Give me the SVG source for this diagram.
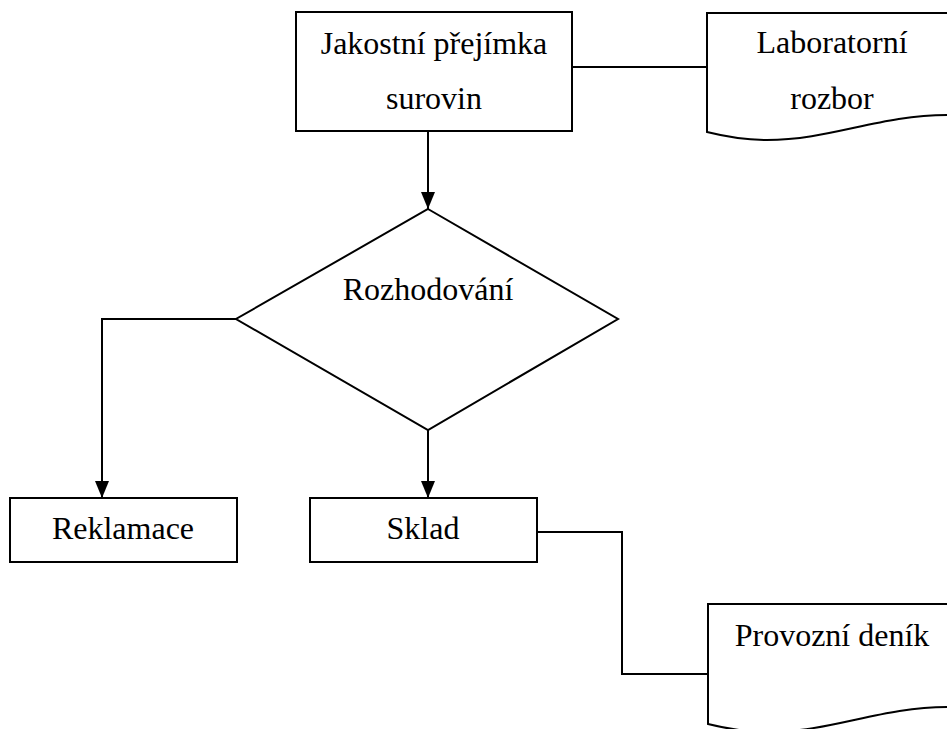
<svg xmlns="http://www.w3.org/2000/svg" width="947" height="729" viewBox="0 0 947 729">
<style>
.s{fill:#fff;stroke:#000;stroke-width:2}
.c{fill:none;stroke:#000;stroke-width:2}
text{font-family:"Liberation Serif","Times New Roman",serif;font-size:32px;fill:#000;text-anchor:middle}
</style>
<defs>
<marker id="ad" markerWidth="17" markerHeight="14" refX="17" refY="7" orient="auto" markerUnits="userSpaceOnUse" viewBox="0 0 17 14">
<path d="M0,0 L17,7 L0,14 Z" fill="#000"/>
</marker>
</defs>
<rect width="947" height="729" fill="#fff"/>
<g id="connectors">
<path class="c" d="M428,131 V209" marker-end="url(#ad)"/>
<path class="c" d="M236,319 H102 V498" marker-end="url(#ad)"/>
<path class="c" d="M428,430 V498" marker-end="url(#ad)"/>
<path class="c" d="M572,67 H707"/>
<path class="c" d="M537,532 H622 V674 H708"/>
</g>
<g id="n1">
<rect class="s" x="296" y="12" width="276" height="119"/>
<text x="434" y="54">Jakostní přejímka</text>
<text x="434" y="109">surovin</text>
</g>
<g id="n2">
<path class="s" d="M960,13 H707 V132 C727,137 747,140 767,140 C830,140 880,115 947,115 H960"/>
<text x="832" y="53">Laboratorní</text>
<text x="832" y="109">rozbor</text>
</g>
<g id="n3">
<path class="s" d="M428,209 L618,319 L428,430 L236,319 Z"/>
<text x="428" y="300">Rozhodování</text>
</g>
<g id="n4">
<rect class="s" x="10" y="498" width="227" height="64"/>
<text x="123" y="539">Reklamace</text>
</g>
<g id="n5">
<rect class="s" x="310" y="498" width="227" height="64"/>
<text x="423" y="539">Sklad</text>
</g>
<g id="n6">
<path class="s" d="M960,604 H708 V724 C728,729 748,732 768,732 C831,732 881,707 947,707 H960"/>
<text x="832" y="646">Provozní deník</text>
</g>
</svg>
